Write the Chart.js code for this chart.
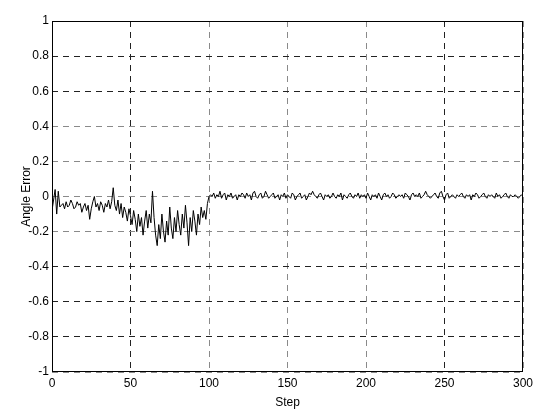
<!DOCTYPE html>
<html>
<head>
<meta charset="utf-8">
<script src="https://cdn.jsdelivr.net/npm/chart.js@4/dist/chart.umd.min.js"></script>
<style>
  html, body { margin: 0; padding: 0; background: #fff; }
  #wrap { width: 550px; height: 418px; }
</style>
</head>
<body>
<div id="wrap"><canvas id="angle-chart" width="550" height="418"></canvas></div>
<script>
// values
const xTicks = [0, 50, 100, 150, 200, 250, 300];
const yTicks = [-1, -0.8, -0.6, -0.4, -0.2, 0, 0.2, 0.4, 0.6, 0.8, 1];

// steps 0..100 : noisy phase
const errorEarly = [
    -0.08, -0.02, 0.04, -0.10, 0.03, -0.06, -0.05, -0.04, -0.07, -0.03,
    -0.06, -0.05, -0.02, -0.04, -0.07, -0.06, -0.03, -0.05, -0.04, -0.09,
    -0.06, -0.04, -0.08, -0.05, -0.13, -0.07, -0.03, 0.00, -0.06, -0.04,
    -0.08, -0.03, -0.05, -0.09, -0.04, -0.06, -0.02, -0.07, -0.03, 0.05,
    -0.05, -0.08, -0.02, -0.10, -0.04, -0.12, -0.06, -0.09, -0.14, -0.07,
    -0.11, -0.16, -0.08, -0.13, -0.20, -0.10, -0.17, -0.12, -0.22, -0.14,
    -0.08, -0.18, -0.10, -0.15, 0.03, -0.12, -0.22, -0.28, -0.16, -0.24,
    -0.10, -0.20, -0.26, -0.14, -0.22, -0.06, -0.18, -0.24, -0.12, -0.20,
    -0.08, -0.16, -0.22, -0.10, -0.18, -0.05, -0.15, -0.28, -0.12, -0.20,
    -0.08, -0.14, -0.22, -0.10, -0.16, -0.06, -0.12, -0.08, -0.13, -0.04,
    0.00
];

// steps 101..300 : settled phase
const errorLate = [
    0.01, 0.00, 0.02, -0.01, 0.01, 0.00, 0.03, -0.01, 0.01, 0.02, -0.02, 0.01, 0.00, 0.02, -0.01, 0.00, 0.01, -0.02, 0.01, 0.00,
    0.02, 0.01, -0.01, 0.02, 0.00, 0.01, -0.02, 0.02, 0.03, 0.00, -0.01, 0.01, 0.02, -0.01, 0.00, 0.03, 0.01, -0.01, 0.00, 0.01,
    0.02, -0.01, 0.00, 0.01, -0.02, 0.01, 0.00, 0.02, -0.01, 0.01, 0.00, -0.01, 0.02, 0.01, -0.02, 0.00, 0.01, 0.02, -0.01, 0.00,
    0.01, -0.02, 0.00, 0.02, 0.01, 0.03, 0.01, 0.00, -0.01, 0.01, 0.02, 0.00, -0.02, 0.01, 0.00, 0.01, -0.01, 0.00, 0.02, 0.00,
    -0.01, 0.01, 0.00, 0.02, -0.02, 0.01, 0.00, -0.01, 0.01, 0.02, 0.00, -0.01, 0.01, 0.00, 0.02, -0.01, 0.01, 0.00, 0.01, -0.01,
    0.02, 0.00, -0.02, 0.01, 0.00, 0.01, -0.01, 0.02, 0.00, -0.02, 0.01, 0.02, 0.00, 0.01, -0.01, 0.00, 0.02, 0.01, -0.01, 0.00,
    0.01, 0.00, 0.01, -0.01, 0.02, 0.01, 0.00, -0.02, 0.01, 0.02, 0.00, 0.01, 0.00, 0.02, -0.01, 0.00, 0.01, 0.03, 0.01, 0.00,
    -0.01, 0.00, 0.01, 0.02, 0.00, -0.01, 0.02, 0.03, 0.00, -0.02, 0.01, 0.02, -0.01, 0.00, 0.01, 0.00, -0.01, 0.01, 0.00, 0.01,
    0.02, 0.00, -0.01, 0.01, 0.00, 0.01, -0.02, 0.01, 0.00, 0.02, 0.01, -0.01, 0.00, 0.01, 0.02, 0.00, -0.01, 0.01, 0.00, 0.01,
    0.00, -0.01, 0.02, 0.00, 0.01, -0.01, 0.00, 0.01, 0.02, 0.00, -0.01, 0.01, 0.00, 0.00, 0.01, 0.00, -0.01, 0.00, 0.01, 0.00
];

const angleError = errorEarly.concat(errorLate);

// grid lines that come out darker in the reference
const darkX = [50, 250];
const darkY = [0.8, 0.6, -0.4, -0.6, -0.8];

const isIn = (list, v) => list.some(d => Math.abs(d - v) < 1e-6);

const framePlugin = {
    id: 'frame',
    afterDatasetsDraw(chart) {
        const { ctx, chartArea: a } = chart;
        ctx.save();
        ctx.strokeStyle = '#000';
        ctx.lineWidth = 1;
        const l = Math.round(a.left) + 0.5, t = Math.round(a.top) + 0.5;
        const r = Math.round(a.right) - 0.5, b = Math.round(a.bottom) - 0.5;
        ctx.strokeRect(l, t, r - l, b - t);
        ctx.restore();
    }
};

const font = { family: "'Liberation Sans Narrow', 'Liberation Sans', Arial, sans-serif", size: 12 };

new Chart(document.getElementById('angle-chart').getContext('2d'), {
    type: 'line',
    data: {
        datasets: [{
            data: angleError.map((v, i) => ({ x: i, y: v })),
            borderColor: '#000',
            borderWidth: 1,
            pointRadius: 0,
            tension: 0,
            fill: false
        }]
    },
    options: {
        responsive: false,
        animation: false,
        layout: { padding: { top: 21, right: 27, left: 0, bottom: 0 } },
        plugins: { legend: { display: false }, tooltip: { enabled: false } },
        scales: {
            x: {
                type: 'linear',
                min: 0,
                max: 300,
                afterFit: s => { s.height = 46; },
                afterBuildTicks: s => { s.ticks = xTicks.map(v => ({ value: v })); },
                ticks: { color: '#000', font: font, padding: 4, maxRotation: 0 },
                grid: {
                    drawTicks: false,
                    color: c => isIn(darkX, c.tick.value) ? '#222' : '#8a8a8a',
                    lineWidth: 1
                },
                border: { display: false, dash: [6, 5] },
                title: { display: true, text: 'Step', color: '#000', font: font, padding: { top: 0, bottom: 8 } }
            },
            y: {
                min: -1,
                max: 1,
                afterFit: s => { s.width = 52; },
                afterBuildTicks: s => { s.ticks = yTicks.map(v => ({ value: v })); },
                ticks: {
                    color: '#000',
                    font: font,
                    padding: 3,
                    callback: v => String(Number(v.toFixed(1)))
                },
                grid: {
                    drawTicks: false,
                    color: c => isIn(darkY, c.tick.value) ? '#222' : '#8a8a8a',
                    lineWidth: 1
                },
                border: { display: false, dash: [6, 5] },
                title: { display: true, text: 'Angle Error', color: '#000', font: font, padding: { top: 19, bottom: 0 } }
            }
        }
    },
    plugins: [framePlugin]
});
</script>
</body>
</html>
